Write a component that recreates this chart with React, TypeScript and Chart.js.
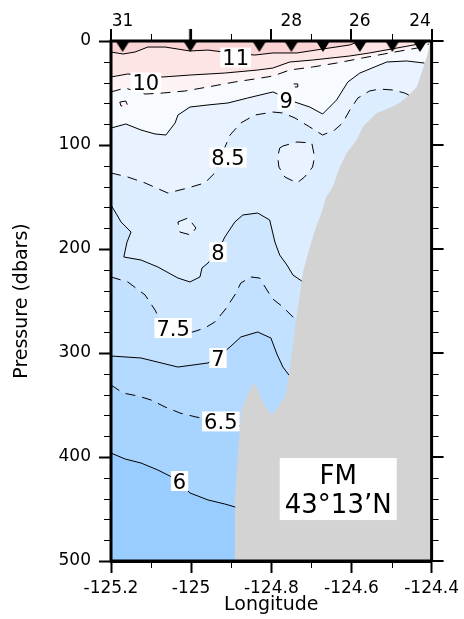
import { useEffect, useRef } from 'react';
import { Chart, registerables } from 'chart.js';

Chart.register(...registerables);

// [longitude (°E), pressure (dbar)]
type Vertex = [number, number];

// ---- axes ----
const lonMin = -125.2;
const lonMax = -124.4;
const presMin = 0;
const presMax = 500;
const lonTickStep = 0.2;
const lonMinorStep = 0.1;
const presTickStep = 100;
const presMinorStep = 20;

// ---- CTD stations along the section ----
const stationIds = [31, 30, 29, 28, 27, 26, 25, 24];
const stationLons = [-125.171, -125.002, -124.83, -124.75, -124.671, -124.579, -124.498, -124.429];
const labelledStations = [31, 28, 26, 24];
const arrowStation = 30;

// ---- isotherms (°C) ----
const levels = [6, 6.5, 7, 7.5, 8, 8.5, 9, 9.5, 10, 11];

const iso6: Vertex[] = [
  [-125.2, 396.2], [-125.165, 401.9], [-125.125, 405.8], [-125.083, 412.5], [-125.053, 418.3],
  [-125.029, 424.0], [-125.003, 434.6], [-124.958, 441.3], [-124.916, 445.2], [-124.89, 448.1],
];
const iso6_5: Vertex[] = [
  [-125.2, 330.8], [-125.17, 338.5], [-125.133, 341.3], [-125.1, 345.2], [-125.065, 351.9],
  [-125.028, 357.7], [-124.988, 361.5], [-124.926, 366.3], [-124.878, 370.0],
];
const iso7: Vertex[] = [
  [-125.2, 302.9], [-125.125, 304.8], [-125.033, 313.5], [-124.958, 309.6], [-124.933, 303.8],
  [-124.903, 294.2], [-124.876, 284.6], [-124.834, 279.8], [-124.801, 285.6], [-124.786, 301.0],
  [-124.771, 313.5], [-124.756, 321.2],
];
const iso7_5: Vertex[] = [
  [-125.2, 226.9], [-125.158, 231.7], [-125.115, 244.2], [-125.09, 258.7], [-125.078, 268.3],
  [-125.045, 276.0], [-124.996, 279.8], [-124.966, 276.0], [-124.941, 270.2], [-124.916, 258.7],
  [-124.891, 244.2], [-124.876, 232.7], [-124.851, 226.9], [-124.829, 227.9], [-124.811, 239.4],
  [-124.796, 248.1], [-124.771, 255.8], [-124.746, 265.4], [-124.736, 267.3],
];
const iso8: Vertex[] = [
  [-125.2, 157.7], [-125.185, 167.3], [-125.175, 174.0], [-125.15, 183.7], [-125.16, 193.3],
  [-125.168, 207.7], [-125.125, 210.6], [-125.083, 217.3], [-125.033, 227.9], [-125.003, 231.7],
  [-124.978, 226.9], [-124.973, 218.3], [-124.958, 213.5], [-124.933, 201.9], [-124.916, 188.5],
  [-124.891, 174.0], [-124.871, 167.3], [-124.834, 165.4], [-124.804, 172.1], [-124.791, 193.3],
  [-124.779, 205.8], [-124.761, 215.4], [-124.746, 225.0], [-124.724, 230.8],
];
const iso8_5: Vertex[] = [
  [-125.2, 126.9], [-125.158, 130.8], [-125.115, 136.5], [-125.058, 146.2], [-125.008, 141.3],
  [-124.966, 136.5], [-124.941, 126.9], [-124.926, 111.5], [-124.903, 90.4], [-124.876, 78.8],
  [-124.841, 71.2], [-124.796, 68.3], [-124.771, 69.2], [-124.741, 74.0], [-124.704, 82.7],
  [-124.672, 90.4], [-124.642, 85.6], [-124.622, 78.8], [-124.604, 66.3], [-124.584, 54.8],
  [-124.555, 48.1], [-124.53, 46.2], [-124.497, 47.1], [-124.467, 50.0], [-124.457, 52.0],
];
const iso9: Vertex[] = [
  [-125.2, 83.7], [-125.163, 79.8], [-125.125, 85.6], [-125.09, 89.4], [-125.063, 90.4],
  [-125.04, 78.8], [-125.033, 71.2], [-125.003, 63.5], [-124.958, 61.5], [-124.908, 59.6],
  [-124.859, 54.8], [-124.796, 49.0], [-124.766, 53.8], [-124.741, 58.7], [-124.704, 63.5],
  [-124.672, 70.2], [-124.637, 56.7], [-124.609, 39.4], [-124.579, 30.8], [-124.512, 20.2],
  [-124.462, 19.2], [-124.418, 21.2],
];
const iso9_5: Vertex[] = [
  [-125.2, 49.0], [-125.165, 45.2], [-125.115, 51.0], [-125.07, 50.0], [-125.016, 48.1],
  [-124.958, 44.2], [-124.891, 39.4], [-124.841, 36.5], [-124.796, 33.7], [-124.754, 27.9],
  [-124.697, 25.0], [-124.637, 21.2], [-124.572, 16.3], [-124.505, 11.5], [-124.435, 6.7],
  [-124.407, 2.9],
];
const iso10: Vertex[] = [
  [-125.2, 34.6], [-125.158, 31.7], [-125.113, 33.7], [-125.07, 34.6], [-125.001, 32.7],
  [-124.916, 30.8], [-124.834, 27.9], [-124.796, 26.0], [-124.754, 20.2], [-124.697, 18.3],
  [-124.604, 14.4], [-124.555, 11.5], [-124.5, 7.7], [-124.44, 3.5], [-124.412, 1.0],
];
const iso11: Vertex[] = [
  [-125.2, 10.6], [-125.17, 12.5], [-125.14, 10.6], [-125.108, 5.8], [-125.065, 5.8],
  [-125.003, 9.6], [-124.958, 8.7], [-124.901, 11.5], [-124.841, 13.5], [-124.796, 11.5],
  [-124.736, 11.5], [-124.672, 7.7], [-124.604, 3.8], [-124.579, 0],
];
const isotherms = [iso6, iso6_5, iso7, iso7_5, iso8, iso8_5, iso9, iso9_5, iso10, iso11];

// closed isotherms (warmer inside)
const iso8_5Pocket1: Vertex[] = [
  [-124.779, 102.9], [-124.771, 101.0], [-124.736, 97.1], [-124.699, 98.1], [-124.692, 111.5],
  [-124.697, 121.2], [-124.717, 130.8], [-124.736, 136.5], [-124.766, 130.8], [-124.781, 121.2],
  [-124.784, 111.5],
];
const iso8_5Pocket2: Vertex[] = [
  [-125.033, 174.0], [-125.008, 170.2], [-124.988, 179.8], [-125.001, 186.5], [-125.028, 183.7],
];
const iso9_5Pocket1: Vertex[] = [
  [-125.178, 58.7], [-125.163, 57.7], [-125.158, 62.5], [-125.175, 62.5],
];
const iso9_5Pocket2: Vertex[] = [
  [-124.744, 41.3], [-124.734, 41.3], [-124.734, 44.2], [-124.744, 44.2],
];
const closedIsotherms = [iso8_5Pocket1, iso8_5Pocket2, iso9_5Pocket1, iso9_5Pocket2];
const closedLevels = [8.5, 8.5, 9.5, 9.5];

// ---- sea floor / slope ----
const bottom: Vertex[] = [
  [-124.404, 0], [-124.405, 3.8], [-124.412, 15.4], [-124.425, 30.8], [-124.437, 44.2],
  [-124.462, 53.8], [-124.48, 59.6], [-124.505, 64.4], [-124.537, 69.2], [-124.572, 82.7],
  [-124.587, 95.2], [-124.612, 107.7], [-124.629, 121.2], [-124.647, 140.4], [-124.664, 151.0],
  [-124.674, 164.4], [-124.689, 179.8], [-124.704, 198.1], [-124.721, 222.1], [-124.729, 244.2],
  [-124.741, 276.0], [-124.749, 301.9], [-124.756, 321.2], [-124.764, 340.4], [-124.779, 350.0],
  [-124.799, 359.6], [-124.821, 348.1], [-124.836, 332.7], [-124.844, 328.8], [-124.861, 342.3],
  [-124.874, 354.8], [-124.879, 374.0], [-124.886, 412.5], [-124.891, 444.2], [-124.891, 500],
];

// ---- contour labels ----
const labelTexts = ['11', '10', '9', '8.5', '8', '7.5', '7', '6.5', '6'];
const labelLons = [-124.889, -125.113, -124.763, -124.908, -124.933, -125.045, -124.933, -124.926, -125.029];
const labelPres = [15.9, 39.9, 56.7, 112.0, 202.9, 276.0, 304.8, 365.8, 423.1];

// ---- section caption ----
const sectionName = 'FM';
const sectionLat = '43°13’N';
const captionLon: [number, number] = [-124.779, -124.487];
const captionPres: [number, number] = [401.0, 460.6];

// ---- styles ----
const FONT = "'DejaVu Sans', sans-serif";
const coldColor = '#99ccff';
const bandColors = [
  '#a7d3ff', '#b4d9ff', '#c2e0ff', '#cfe6ff', '#dcedff',
  '#e9f3ff', '#f7faff', '#fef3f4', '#fde4e5', '#fad3d4',
];
const landColor = '#d3d3d3';
const dashPattern = [10, 7];

const toXY = (pts: Vertex[]) => pts.map(([x, y]) => ({ x, y }));

function stationMarker(withStem: boolean) {
  const c = document.createElement('canvas');
  c.width = 14;
  c.height = 26;
  const g = c.getContext('2d')!;
  g.fillStyle = '#000';
  g.beginPath();
  g.moveTo(0, 13);
  g.lineTo(14, 13);
  g.lineTo(7, 24);
  g.closePath();
  g.fill();
  if (withStem) g.fillRect(5.8, 1, 2.4, 13);
  return c;
}

const sectionDecor = {
  id: 'sectionDecor',
  beforeDatasetsDraw(chart: any) {
    const { ctx, chartArea: a } = chart;
    ctx.save();
    ctx.fillStyle = coldColor;
    ctx.fillRect(a.left, a.top, a.right - a.left, a.bottom - a.top);
    ctx.restore();
  },
  afterDatasetsDraw(chart: any) {
    const { ctx } = chart;
    const xs = chart.scales.x;
    const ys = chart.scales.y;
    ctx.save();
    // isotherm labels
    const fs = 21;
    ctx.font = `${fs}px ${FONT}`;
    ctx.textAlign = 'center';
    ctx.textBaseline = 'alphabetic';
    labelTexts.forEach((t, i) => {
      const cx = xs.getPixelForValue(labelLons[i]);
      const cy = ys.getPixelForValue(labelPres[i]);
      const w = ctx.measureText(t).width + 4;
      const h = 20;
      ctx.fillStyle = '#fff';
      ctx.fillRect(cx - w / 2, cy - h / 2, w, h);
      ctx.fillStyle = '#000';
      ctx.fillText(t, cx, cy + (0.729 * fs) / 2);
    });
    // caption box
    const l = xs.getPixelForValue(captionLon[0]);
    const r = xs.getPixelForValue(captionLon[1]);
    const t = ys.getPixelForValue(captionPres[0]);
    const b = ys.getPixelForValue(captionPres[1]);
    ctx.fillStyle = '#fff';
    ctx.fillRect(l, t, r - l, b - t);
    ctx.fillStyle = '#000';
    const cf = 26;
    ctx.font = `${cf}px ${FONT}`;
    const mx = (l + r) / 2;
    const h = b - t;
    ctx.fillText(sectionName, mx, t + h * 0.27 + (0.729 * cf) / 2);
    ctx.fillText(sectionLat, mx, t + h * 0.74 + (0.729 * cf) / 2);
    ctx.restore();
  },
  afterDraw(chart: any) {
    const { ctx, chartArea: a } = chart;
    const xs = chart.scales.x;
    const ys = chart.scales.y;
    ctx.save();
    ctx.strokeStyle = '#000';
    // frame
    ctx.lineWidth = 3;
    ctx.strokeRect(a.left, a.top, a.right - a.left, a.bottom - a.top);
    const seg = (x1: number, y1: number, x2: number, y2: number, w: number) => {
      ctx.lineWidth = w;
      ctx.beginPath();
      ctx.moveTo(x1, y1);
      ctx.lineTo(x2, y2);
      ctx.stroke();
    };
    // longitude ticks: minor below, all on top
    const nLon = Math.round((lonMax - lonMin) / lonMinorStep);
    const lonRatio = Math.round(lonTickStep / lonMinorStep);
    for (let i = 0; i <= nLon; i++) {
      const v = lonMin + i * lonMinorStep;
      const major = i % lonRatio === 0;
      const px = xs.getPixelForValue(v);
      const sx = major ? Math.round(px) : Math.round(px) + 0.5;
      if (!major) seg(sx, a.bottom, sx, a.bottom + 7, 1);
      seg(sx, a.top, sx, a.top - (major ? 12 : 7), major ? 2 : 1);
    }
    // pressure ticks: minor on the left, all on the right
    const nPres = Math.round((presMax - presMin) / presMinorStep);
    const presRatio = Math.round(presTickStep / presMinorStep);
    for (let i = 0; i <= nPres; i++) {
      const v = presMin + i * presMinorStep;
      const major = i % presRatio === 0;
      const py = ys.getPixelForValue(v);
      const sy = major ? Math.round(py) : Math.round(py) + 0.5;
      if (!major) seg(a.left, sy, a.left - 7, sy, 1);
      seg(a.right, sy, a.right + (major ? 12 : 7), sy, major ? 2 : 1);
    }
    // station numbers
    const sf = 17;
    ctx.font = `${sf}px ${FONT}`;
    ctx.fillStyle = '#000';
    ctx.textAlign = 'center';
    ctx.textBaseline = 'alphabetic';
    labelledStations.forEach((id) => {
      const lon = stationLons[stationIds.indexOf(id)];
      ctx.fillText(String(id), xs.getPixelForValue(lon), 20.3 + (0.729 * sf) / 2);
    });
    ctx.restore();
  },
};

export default function App() {
  const ref = useRef<HTMLCanvasElement>(null);

  useEffect(() => {
    const canvas = ref.current!;
    const datasets: any[] = [];

    // warm side of each isotherm, layered from cold to warm
    levels.forEach((lv, i) => {
      const line = isotherms[i];
      const first = line[0];
      const last = line[line.length - 1];
      datasets.push({
        label: `T>${lv}`,
        data: [
          { x: lonMin, y: first[1] },
          ...toXY(line),
          { x: lonMax, y: last[1] },
          { x: lonMax, y: presMin },
          { x: lonMin, y: presMin },
        ],
        fill: 'shape',
        backgroundColor: bandColors[i],
        borderColor: 'transparent',
        borderWidth: 0,
        pointRadius: 0,
        tension: 0,
        order: 100 - i,
      });
    });
    closedIsotherms.forEach((loop, k) => {
      datasets.push({
        data: toXY([...loop, loop[0]]),
        fill: 'shape',
        backgroundColor: bandColors[levels.indexOf(closedLevels[k])],
        borderColor: 'transparent',
        borderWidth: 0,
        pointRadius: 0,
        order: 80,
      });
    });
    // continental slope
    datasets.push({
      data: [...toXY(bottom), { x: lonMax, y: presMax }, { x: lonMax, y: presMin }],
      fill: 'shape',
      backgroundColor: landColor,
      borderColor: 'transparent',
      borderWidth: 0,
      pointRadius: 0,
      order: 70,
    });
    // contour lines: integer solid, half-degree dashed
    levels.forEach((lv, i) => {
      datasets.push({
        data: toXY(isotherms[i]),
        fill: false,
        borderColor: '#000',
        borderWidth: 1,
        borderDash: lv % 1 === 0 ? [] : dashPattern,
        pointRadius: 0,
        order: 50,
      });
    });
    closedIsotherms.forEach((loop, k) => {
      datasets.push({
        data: toXY([...loop, loop[0]]),
        fill: false,
        borderColor: '#000',
        borderWidth: 1,
        borderDash: closedLevels[k] % 1 === 0 ? [] : dashPattern,
        pointRadius: 0,
        order: 50,
      });
    });
    // station markers at the surface
    const tri = stationMarker(false);
    const arrow = stationMarker(true);
    datasets.push({
      data: stationLons.map((lon) => ({ x: lon, y: presMin })),
      showLine: false,
      pointStyle: stationIds.map((id) => (id === arrowStation ? arrow : tri)),
      pointRadius: 5,
      clip: false,
      order: 10,
    });

    const chart = new Chart(canvas, {
      type: 'line',
      data: { datasets },
      plugins: [sectionDecor],
      options: {
        responsive: false,
        animation: false,
        devicePixelRatio: 1,
        events: [],
        layout: { padding: { top: 41, right: 32, left: 0, bottom: 0 } },
        plugins: { legend: { display: false }, tooltip: { enabled: false } },
        scales: {
          x: {
            type: 'linear',
            position: 'bottom',
            min: lonMin,
            max: lonMax,
            afterFit: (s: any) => {
              s.height = 58;
            },
            ticks: {
              stepSize: lonTickStep,
              color: '#000',
              font: { family: FONT, size: 17 },
              padding: 5,
              maxRotation: 0,
              autoSkip: false,
              callback: (v: any) => String(Math.round(Number(v) * 10) / 10),
            },
            grid: { drawOnChartArea: false, drawTicks: true, tickLength: 12, tickWidth: 2, tickColor: '#000', color: '#000' },
            border: { display: true, color: '#000', width: 3 },
            title: { display: true, text: 'Longitude', color: '#000', font: { family: FONT, size: 19 }, padding: { top: 0, bottom: 3 } },
          },
          y: {
            type: 'linear',
            position: 'left',
            min: presMin,
            max: presMax,
            reverse: true,
            afterFit: (s: any) => {
              s.width = 111;
            },
            ticks: {
              stepSize: presTickStep,
              color: '#000',
              font: { family: FONT, size: 17 },
              padding: 8,
              autoSkip: false,
              callback: (v: any) => String(Math.round(Number(v))),
            },
            grid: { drawOnChartArea: false, drawTicks: true, tickLength: 12, tickWidth: 2, tickColor: '#000', color: '#000' },
            border: { display: true, color: '#000', width: 3 },
            title: { display: true, text: 'Pressure (dbars)', color: '#000', font: { family: FONT, size: 19 }, padding: { top: 11, bottom: 0 } },
          },
        },
      } as any,
    });
    return () => chart.destroy();
  }, []);

  return (
    <canvas
      ref={ref}
      width={464}
      height={619}
      style={{ position: 'fixed', left: 0, top: 0, width: 464, height: 619 }}
    />
  );
}
